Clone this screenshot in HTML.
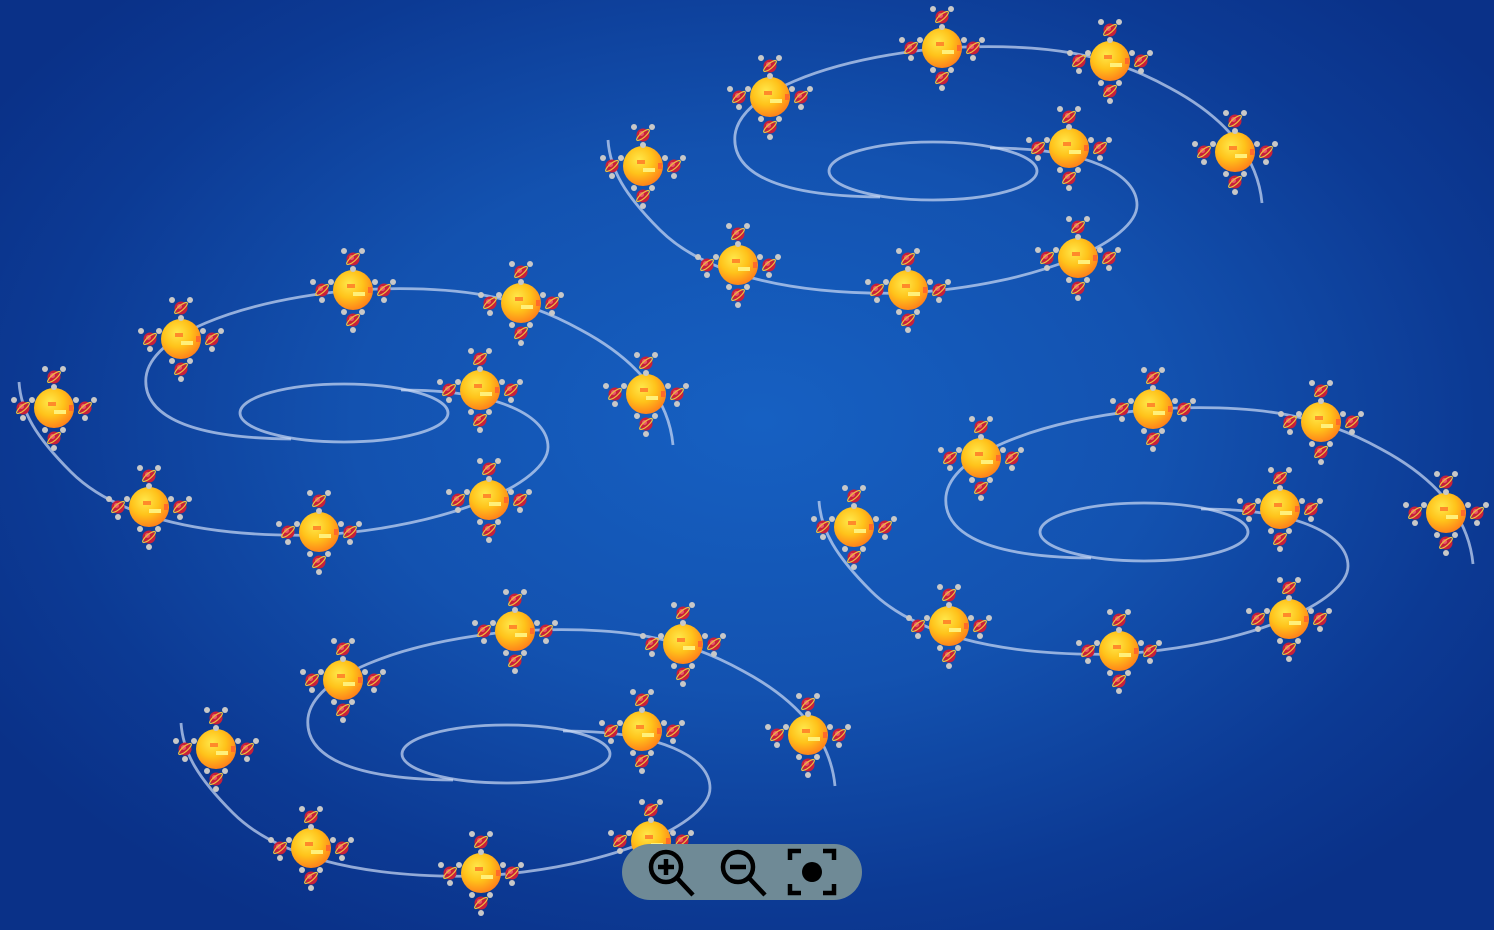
<!DOCTYPE html>
<html><head><meta charset="utf-8"><style>
html,body{margin:0;padding:0;width:1494px;height:930px;overflow:hidden;}
body{background:radial-gradient(ellipse 900px 600px at 760px 420px,#1660c2 0%,#1352b0 45%,#0c3a94 80%,#0a3188 100%);font-family:"Liberation Sans",sans-serif;}
#zoom{position:absolute;left:622px;top:844px;width:240px;height:56px;border-radius:28px;background:#6f8a96;}
</style></head><body>
<svg id="chart" width="1494" height="930" style="position:absolute;left:0;top:0">
<defs>
<radialGradient id="sun" cx="40%" cy="35%" r="70%">
<stop offset="0" stop-color="#ffe84a"/><stop offset="0.5" stop-color="#ffc21a"/><stop offset="1" stop-color="#ff7a1a"/>
</radialGradient>
</defs>
<g id="clusters"></g>
</svg>
<div id="zoom">
<svg width="240" height="56">
<g fill="none" stroke="#000" stroke-width="4.5">
<circle cx="44" cy="23" r="15"/><line x1="55" y1="34" x2="71" y2="51"/><line x1="36" y1="23" x2="52" y2="23"/><line x1="44" y1="15" x2="44" y2="31"/>
</g>
<g fill="none" stroke="#000" stroke-width="4.5">
<circle cx="116" cy="23" r="15"/><line x1="127" y1="34" x2="143" y2="51"/><line x1="108" y1="23" x2="124" y2="23"/>
</g>
<g fill="none" stroke="#000" stroke-width="4.5">
<path d="M168 16 V7 H179 M201 7 H212 V16 M212 40 V49 H201 M179 49 H168 V40"/>
<circle cx="190" cy="28" r="10" fill="#000" stroke="none"/>
</g>
</svg></div>
<script>
const clusterOrigins=[[942,48],[353,290],[1153,409],[515,631]];
const nodeOffsetsX=[0,168,293,-172,-299,127,-204,-34,136];
const nodeOffsetsY=[0,13,104,49,118,100,217,242,210];
const NS='http://www.w3.org/2000/svg';
const root=document.getElementById('clusters');
function mk(t,a,p){const e=document.createElementNS(NS,t);for(const k in a)e.setAttribute(k,a[k]);p.appendChild(e);return e;}
function rocket(g,x,y){
  mk('circle',{cx:x-9,cy:y-8,r:3,fill:'#c8c8c8'},g);
  mk('circle',{cx:x+9,cy:y-8,r:3,fill:'#c8c8c8'},g);
  mk('circle',{cx:x,cy:y+10,r:3,fill:'#c8c8c8'},g);
  mk('circle',{cx:x,cy:y,r:6.5,fill:'#c8203a'},g);
  mk('circle',{cx:x-1.5,cy:y-1.5,r:2.5,fill:'#e85a6a'},g);
  mk('ellipse',{cx:x,cy:y,rx:8,ry:2.5,fill:'none',stroke:'#f0c040','stroke-width':1.2,transform:`rotate(-40 ${x} ${y})`},g);
}
clusterOrigins.forEach((o,ci)=>{
  const g=mk('g',{transform:`translate(${o[0]-942},${o[1]-48})`},root);
  
  
  const ls={fill:'none',stroke:'rgba(205,220,245,0.7)','stroke-width':2.8};
  const e1=mk('ellipse',Object.assign({cx:933,cy:171,rx:104,ry:29},ls),g);
  
  
  const p1=mk('path',Object.assign({d:'M880 197 C760 196 732 165 735 135 C740 95 820 60 942 48 C1050 42 1110 55 1170 88 C1230 120 1258 160 1262 203'},ls),g);
  
  
  const p2=mk('path',Object.assign({d:'M990 148 C1090 148 1137 175 1137 205 C1137 240 1040 285 908 293 C780 296 700 270 660 230 C625 195 610 170 608 140'},ls),g);
  
  
  nodeOffsetsX.forEach((dx,i)=>{
    const x=942+dx,y=48+nodeOffsetsY[i];
    const n=mk('g',{},g);
    
    
    mk('circle',{cx:x,cy:y,r:20,fill:'url(#sun)'},n);
    mk('rect',{x:x-6,y:y-6,width:8,height:4,fill:'#ff8a2a'},n);
    mk('rect',{x:x,y:y+2,width:12,height:4,fill:'#fff07a'},n);
    mk('rect',{x:x+15,y:y-3,width:4,height:6,fill:'#ff6a2a'},n);
    rocket(n,x,y-31);rocket(n,x,y+30);rocket(n,x-31,y);rocket(n,x+31,y);
  });
});
</script>
</body></html>
